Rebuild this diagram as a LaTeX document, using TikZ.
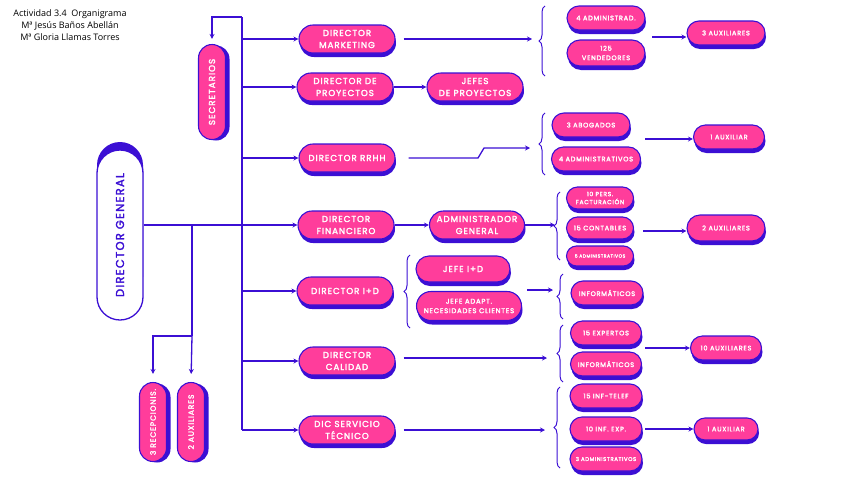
\documentclass[tikz,border=0pt]{standalone}
\usepackage{fontspec}
\setmainfont{Open Sans}
\newfontfamily\boxfont[LetterSpace=11.0,FakeBold=2.4]{Poppins}
\usetikzlibrary{shapes.misc,shadows,arrows.meta,decorations.pathreplacing}
\definecolor{rosa}{HTML}{FF3D9B}
\definecolor{azul}{HTML}{3B0FD4}
\tikzset{
  linea/.style={draw=azul, line width=1.3pt},
  flecha/.style={linea, -{Stealth[length=5pt,width=5pt]}},
  llave/.style={draw=azul, line width=1pt, decorate, decoration={brace, amplitude=6pt}},
  caja/.style={rounded rectangle, draw=azul, line width=1.1pt, fill=rosa, text=white,
    align=center, inner sep=0pt,
    general shadow={fill=azul, shadow xshift=1pt, shadow yshift=-4pt}},
  cargo/.style={caja, minimum width=96pt, minimum height=28pt, font=\boxfont\fontsize{8.7}{12}\selectfont},
  subcargo/.style={caja, minimum height=24pt, font=\boxfont\fontsize{6.6}{9.5}\selectfont},
  vcaja/.style={rectangle, rounded corners=13.5pt, draw=azul, line width=1.1pt, fill=rosa, text=white,
    inner sep=0pt, font=\boxfont\fontsize{7.6}{9}\selectfont,
    general shadow={fill=azul, shadow xshift=4pt, shadow yshift=-1pt}}
}
\begin{document}
\begin{tikzpicture}[x=1pt,y=-1pt]
  \useasboundingbox (0,0) rectangle (848,477);

  % Heading text
  \node (titulo) at (70,25) [align=center, font=\fontsize{9}{12.2}\selectfont]
    {Actividad 3.4\ \ Organigrama\\Mª Jesús Baños Abellán\\Mª Gloria Llamas Torres};

  % Director general (blue cap behind it)
  \fill [azul, rounded corners=23pt] (97,142) rectangle (143,300);
  \node (dg) at (120,235) [rectangle, rounded corners=23pt, draw=azul, line width=1.3pt, fill=white,
    minimum width=46pt, minimum height=170pt, inner sep=0pt, text=azul,
    font=\boxfont\fontsize{11.5}{12}\selectfont] {\rotatebox{90}{DIRECTOR\hspace{4pt}GENERAL}};

  % Vertical boxes
  \node (secr) at (212,92) [vcaja, minimum width=27pt, minimum height=95pt,
    font=\boxfont\fontsize{8.8}{9}\selectfont] {\rotatebox{90}{SECRETARIOS}};
  \node (recep) at (153,422) [vcaja, minimum width=27pt, minimum height=79pt] {\rotatebox{90}{3 RECEPCIONIS.}};
  \node (auxdg) at (191,422) [vcaja, minimum width=27pt, minimum height=79pt] {\rotatebox{90}{2 AUXILIARES}};

  % Directors
  \node (dmark) at (347,39) [cargo] {DIRECTOR\\MARKETING};
  \node (dproy) at (345,87) [cargo] {DIRECTOR DE\\PROYECTOS};
  \node (drrhh) at (347,158) [cargo] {DIRECTOR RRHH};
  \node (dfin) at (346,225) [cargo] {DIRECTOR\\FINANCIERO};
  \node (did) at (345,291) [cargo] {DIRECTOR I+D};
  \node (dcal) at (347,361) [cargo] {DIRECTOR\\CALIDAD};
  \node (dserv) at (347,430) [cargo] {DIC SERVICIO\\TÉCNICO};

  % Second level
  \node (jproy) at (475,87) [cargo] {JEFES\\DE PROYECTOS};
  \node (admgen) at (477,225) [cargo, minimum width=95pt] {ADMINISTRADOR\\GENERAL};
  \node (jefeid) at (463,269) [cargo, minimum width=94pt, minimum height=26pt] {JEFE I+D};
  \node (jefead) at (469,306) [cargo, minimum width=105pt, minimum height=29pt,
    font=\boxfont\fontsize{6.9}{9.5}\selectfont] {JEFE ADAPT.\\NECESIDADES CLIENTES};

  % Marketing staff
  \node (adm4) at (606,18) [subcargo, minimum width=78pt] {4 ADMINISTRAD.};
  \node (vend) at (606,53) [subcargo, minimum width=78pt, minimum height=26pt] {125\\VENDEDORES};
  \node (aux3) at (726,33) [subcargo, minimum width=78pt] {3 AUXILIARES};

  % RRHH staff
  \node (abog) at (591,125) [subcargo, minimum width=78pt] {3 ABOGADOS};
  \node (adm4b) at (596,159) [subcargo, minimum width=89pt] {4 ADMINISTRATIVOS};
  \node (aux1) at (729,137) [subcargo, minimum width=71pt] {1 AUXILIAR};

  % Financial staff
  \node (fact) at (600,198) [subcargo, minimum width=67pt, minimum height=22pt,
    font=\boxfont\fontsize{6}{8}\selectfont] {10 PERS.\\FACTURACIÓN};
  \node (cont) at (600,228) [subcargo, minimum width=67pt, minimum height=22pt] {15 CONTABLES};
  \node (adm5) at (600,256) [subcargo, minimum width=67pt, minimum height=20pt,
    font=\boxfont\fontsize{4.5}{6}\selectfont] {5 ADMINISTRATIVOS};
  \node (aux2) at (726,228) [subcargo, minimum width=78pt, minimum height=26pt] {2 AUXILIARES};

  % I+D staff
  \node (inf1) at (607,293) [subcargo, minimum width=72pt] {INFORMÁTICOS};

  % Quality staff
  \node (exp15) at (606,333) [subcargo, minimum width=71pt] {15 EXPERTOS};
  \node (inf2) at (606,364) [subcargo, minimum width=71pt] {INFORMÁTICOS};
  \node (aux10) at (726,348) [subcargo, minimum width=71pt] {10 AUXILIARES};

  % Technical service staff
  \node (inft) at (606,396) [subcargo, minimum width=72pt] {15 INF-TELEF};
  \node (infexp) at (606,429) [subcargo, minimum width=72pt] {10 INF. EXP.};
  \node (adm3) at (606,459) [subcargo, minimum width=72pt,
    font=\boxfont\fontsize{5.4}{7}\selectfont] {3 ADMINISTRATIVOS};
  \node (aux1b) at (726,429) [subcargo, minimum width=64pt, minimum height=22pt] {1 AUXILIAR};

  % Trunk points
  \coordinate (ttop) at (242,17);
  \coordinate (tmark) at (242,39);
  \coordinate (tproy) at (242,87);
  \coordinate (trrhh) at (242,158);
  \coordinate (tfin) at (242,225);
  \coordinate (tid) at (242,291);
  \coordinate (tcal) at (242,361);
  \coordinate (tserv) at (242,430);
  \coordinate (tdg) at (192,225);
  \coordinate (tsplit) at (192,336);

  % Drawing trunk
  \draw [linea] (ttop) -- (tserv);
  \draw [flecha, shorten >=5pt] (ttop) -| (secr.north);
  \draw [linea] (dg.east |- tfin) -- (tfin);
  \draw [linea] (tdg) -- (tsplit);
  \draw [flecha, shorten >=8pt] (tsplit) -- (auxdg.north);
  \draw [flecha, shorten >=8pt] (tsplit) -| (recep.north);

  % Drawing trunk branches
  \draw [flecha] (tmark) -- (dmark.west);
  \draw [flecha] (tproy) -- (dproy.west);
  \draw [flecha] (trrhh) -- (drrhh.west);
  \draw [flecha] (tfin) -- (dfin.west);
  \draw [flecha] (tid) -- (did.west);
  \draw [flecha] (tcal) -- (dcal.west);
  \draw [flecha] (tserv) -- (dserv.west);

  % Drawing second level links
  \draw [flecha] (dproy.east) -- (jproy.west);
  \draw [flecha] (dfin.east) -- (admgen.west);

  % Marketing group
  \coordinate (bmark) at (532,39);
  \draw [flecha, shorten <=8pt] (dmark.east) -- (bmark);
  \draw [llave] (545,76) -- (545,6);
  \draw [flecha] (652,37) -- (aux3.west |- 0,37);

  % RRHH group
  \coordinate (brrhh) at (530,148);
  \draw [flecha] ([xshift=13pt]drrhh.east) -- (478,158) -- (484,148) -- (brrhh);
  \draw [llave] (545,175) -- (545,113);
  \draw [flecha] (645,139) -- (aux1.west |- 0,139);

  % Financial group
  \coordinate (bfin) at (555,225);
  \draw [flecha] (admgen.east) -- (bfin);
  \draw [llave] (560,260) -- (560,192);
  \draw [flecha] (643,231) -- (aux2.west |- 0,231);

  % I+D group
  \draw [llave] (410,328) -- (410,255);
  \coordinate (bid) at (553,290);
  \draw [flecha] (527,290) -- (bid);
  \draw [llave] (563,319) -- (563,274);

  % Quality group
  \coordinate (bcal) at (547,358);
  \draw [flecha, shorten <=8pt] (dcal.east |- bcal) -- (bcal);
  \draw [llave] (563,382) -- (563,325);
  \draw [flecha] (645,348) -- (aux10.west);

  % Technical service group
  \coordinate (bserv) at (545,430);
  \draw [flecha, shorten <=8pt] (dserv.east) -- (bserv);
  \draw [llave] (560,468) -- (560,387);
  \draw [flecha] (645,429) -- (aux1b.west);
\end{tikzpicture}
\end{document}
